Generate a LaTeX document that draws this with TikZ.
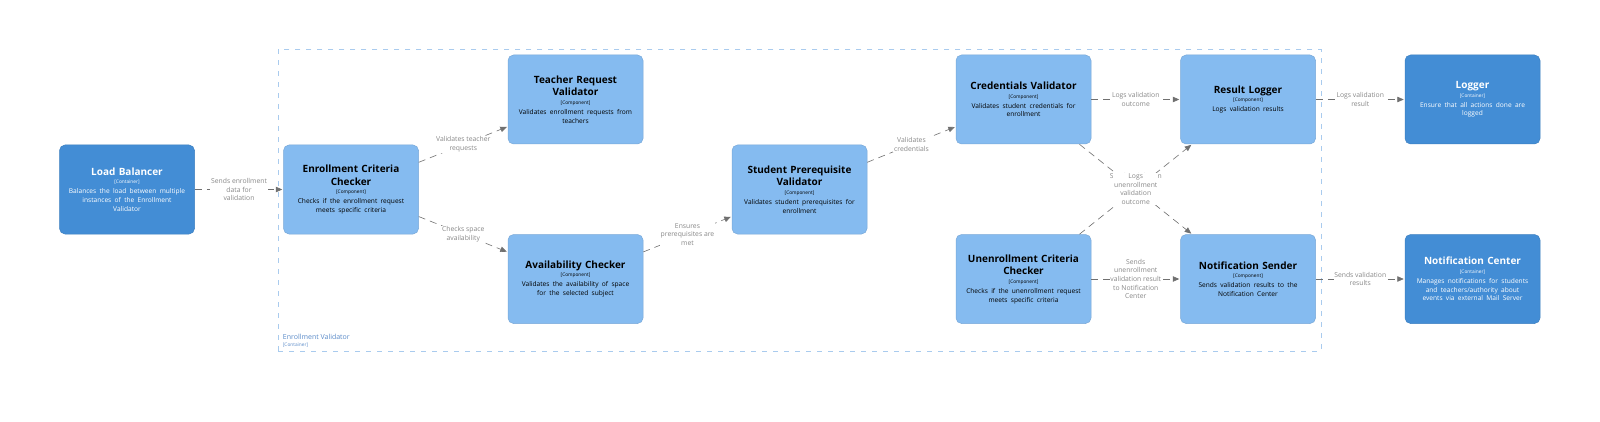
\documentclass[tikz,border=0pt]{standalone}
\usepackage{fontspec}
\setmainfont{Open Sans}
\usetikzlibrary{arrows.meta}
\definecolor{contfill}{HTML}{438DD5}
\definecolor{contdraw}{HTML}{3C7FC0}
\definecolor{compfill}{HTML}{85BBF0}
\definecolor{compdraw}{HTML}{78A8D8}
\definecolor{relline}{HTML}{707070}
\definecolor{reltext}{HTML}{888888}
\definecolor{bndline}{HTML}{A9CBEE}
\definecolor{bndtext}{HTML}{5A8BC9}
\newcommand{\eltitle}[1]{{\fontsize{10}{12.7}\selectfont\bfseries #1\par}}
\newcommand{\eltag}[1]{{\fontsize{4.8}{8.5}\selectfont [#1]\par}}
\newcommand{\eldesc}[1]{{\vspace{1.2pt}\fontsize{6.6}{8.8}\selectfont #1\par}}
\begin{document}
\begin{tikzpicture}[x=1pt,y=-1pt,
  box/.style={rounded corners=5.5pt, minimum width=135pt, minimum height=89pt,
    text width=131pt, align=center, inner sep=0pt, line width=0.5pt},
  container/.style={box, fill=contfill, draw=contdraw, text=white},
  component/.style={box, fill=compfill, draw=compdraw, text=black},
  rel/.style={draw=relline, line width=0.6pt, dash pattern=on 7pt off 5pt,
    -{Triangle[length=6.5pt,width=5.5pt]}, shorten >=1pt},
  lbl/.style={fill=white, text=reltext, font=\fontsize{6.8}{8.6}\selectfont,
    align=center, inner sep=0.8pt},
  bnd/.style={draw=bndline, line width=0.8pt, dash pattern=on 5pt off 6pt,
    minimum width=1042.7pt, minimum height=301.7pt, inner sep=0pt}
]
\useasboundingbox (0,0) rectangle (1600,422);
\fill[white] (0,0) rectangle (1600,422);

\node[bnd] (evb) at (799.65,200.15) {};
\node[anchor=west, text=bndtext, font=\fontsize{7}{8}\selectfont, inner sep=0pt] (evl) at (282.7,336.7) {Enrollment Validator};
\node[anchor=west, text=bndtext, font=\fontsize{4.8}{5}\selectfont, inner sep=0pt] (evt) at (282.7,345) {[Container]};

\node[container] (lb) at (127,189.5) {\eltitle{Load Balancer}\eltag{Container}\eldesc{Balances the load between multiple\\instances of the Enrollment\\Validator}};
\node[component] (ecc) at (351,189.5) {\eltitle{Enrollment Criteria\\Checker}\eltag{Component}\eldesc{Checks if the enrollment request\\meets specific criteria}};
\node[component] (trv) at (575.5,99.5) {\eltitle{Teacher Request\\Validator}\eltag{Component}\eldesc{Validates enrollment requests from\\teachers}};
\node[component] (ac) at (575.5,279) {\eltitle{Availability Checker}\eltag{Component}\eldesc{Validates the availability of space\\for the selected subject}};
\node[component] (spv) at (799.5,189.5) {\eltitle{Student Prerequisite\\Validator}\eltag{Component}\eldesc{Validates student prerequisites for\\enrollment}};
\node[component] (cv) at (1023.5,99.5) {\eltitle{Credentials Validator}\eltag{Component}\eldesc{Validates student credentials for\\enrollment}};
\node[component] (ucc) at (1023.5,279) {\eltitle{Unenrollment Criteria\\Checker}\eltag{Component}\eldesc{Checks if the unenrollment request\\meets specific criteria}};
\node[component] (rl) at (1248,99.5) {\eltitle{Result Logger}\eltag{Component}\eldesc{Logs validation results}};
\node[component] (ns) at (1248,279) {\eltitle{Notification Sender}\eltag{Component}\eldesc{Sends validation results to the\\Notification Center}};
\node[container] (lg) at (1472.5,99.5) {\eltitle{Logger}\eltag{Container}\eldesc{Ensure that all actions done are\\logged}};
\node[container] (nc) at (1472.5,279) {\eltitle{Notification Center}\eltag{Container}\eldesc{Manages notifications for students\\and teachers/authority about\\events via external Mail Server}};

\draw[rel] (lb) -- node[lbl]{Sends enrollment\\data for\\validation} (ecc);
\draw[rel] (ecc) -- node[lbl]{Validates teacher\\requests} (trv);
\draw[rel] (ecc) -- node[lbl]{Checks space\\availability} (ac);
\draw[rel] (ac) -- node[lbl]{Ensures\\prerequisites are\\met} (spv);
\draw[rel] (spv) -- node[lbl]{Validates\\credentials} (cv);
\draw[rel] (cv) -- node[lbl]{Logs validation\\outcome} (rl);
\draw[rel] (cv) -- node[lbl, yshift=12.9pt]{Sends validation} (ns);
\draw[rel] (ucc) -- node[lbl]{Logs\\unenrollment\\validation\\outcome} (rl);
\draw[rel] (ucc) -- node[lbl]{Sends\\unenrollment\\validation result\\to Notification\\Center} (ns);
\draw[rel] (rl) -- node[lbl]{Logs validation\\result} (lg);
\draw[rel] (ns) -- node[lbl]{Sends validation\\results} (nc);
\end{tikzpicture}
\end{document}
